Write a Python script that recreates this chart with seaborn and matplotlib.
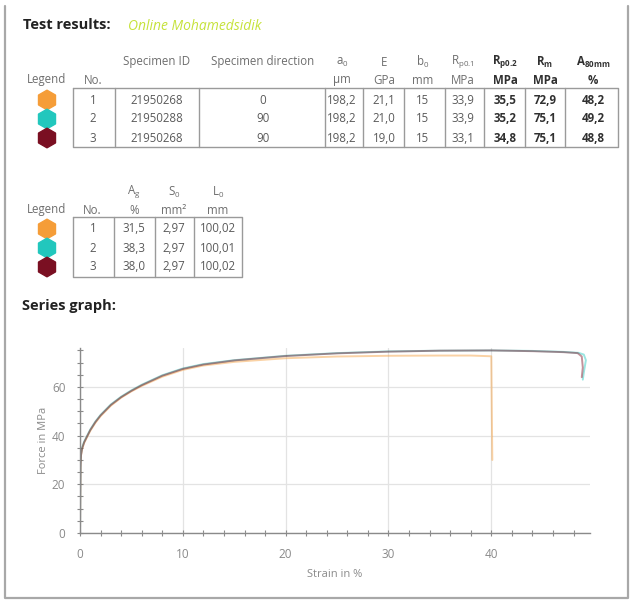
import pandas as pd
import seaborn as sns
import matplotlib.pyplot as plt
from matplotlib.ticker import MultipleLocator

# --- report tables
specimen_no = [1, 2, 3]
specimen_id = ["21950268", "21950288", "21950268"]
direction = ["0", "90", "90"]
a0 = ["198,2", "198,2", "198,2"]
e_mod = ["21,1", "21,0", "19,0"]
b0 = ["15", "15", "15"]
rp01 = ["33,9", "33,9", "33,1"]
rp02 = ["35,5", "35,2", "34,8"]
rm = ["72,9", "75,1", "75,1"]
a80 = ["48,2", "49,2", "48,8"]
ag = ["31,5", "38,3", "38,0"]
s0 = ["2,97", "2,97", "2,97"]
l0 = ["100,02", "100,01", "100,02"]
colors = ["#f59d38", "#22c7bd", "#7a0f22"]

# --- stress/strain curves
strain_1 = [0, 0.02, 0.05, 0.1, 0.2, 0.4, 0.7, 1, 1.5, 2, 3, 4, 5, 6, 8, 10, 12, 15, 20, 25, 30, 35, 38, 40.0, 40.05, 40.1]
stress_1 = [0, 15, 28, 32, 34.5, 37, 39.5, 42, 45.3, 48, 52.3, 55.6, 58.2, 60.4, 64.2, 67, 68.8, 70.3, 71.8, 72.5, 72.8, 72.9, 72.9, 72.6, 50, 30]
strain_2 = [0, 0.02, 0.05, 0.1, 0.2, 0.4, 0.7, 1, 1.5, 2, 3, 4, 5, 6, 8, 10, 12, 15, 20, 25, 30, 35, 40, 44, 47, 48.5, 49.0, 49.2, 49.0, 48.9]
stress_2 = [0, 15, 28, 32.5, 35, 37.5, 40, 42.5, 45.8, 48.5, 52.8, 56, 58.6, 60.9, 64.8, 67.6, 69.4, 71, 72.8, 73.9, 74.6, 74.9, 75.0, 74.8, 74.4, 74.0, 73.3, 71, 66, 63]
strain_3 = [0, 0.02, 0.05, 0.1, 0.2, 0.4, 0.7, 1, 1.5, 2, 3, 4, 5, 6, 8, 10, 12, 15, 20, 25, 30, 35, 40, 44, 47, 48.4, 48.8, 48.9, 48.8]
stress_3 = [0, 15, 27, 32, 34.6, 37.2, 39.8, 42.3, 45.6, 48.3, 52.6, 55.8, 58.4, 60.7, 64.6, 67.4, 69.2, 70.9, 72.7, 73.8, 74.5, 74.9, 75.0, 74.7, 74.3, 73.9, 72.5, 68, 64]

curves = pd.concat([
    pd.DataFrame({"strain": strain_1, "stress": stress_1, "No.": 1}),
    pd.DataFrame({"strain": strain_2, "stress": stress_2, "No.": 2}),
    pd.DataFrame({"strain": strain_3, "stress": stress_3, "No.": 3}),
], ignore_index=True)

sns.set_theme(style="ticks")
plt.rcParams['font.family'] = ['Open Sans', 'DejaVu Sans']
plt.rcParams['mathtext.fontset'] = 'custom'
plt.rcParams['mathtext.rm'] = 'Open Sans'
plt.rcParams['mathtext.bf'] = 'Open Sans:bold'
plt.rcParams['mathtext.it'] = 'Open Sans:italic'

W, H = 632, 603
fig = plt.figure(figsize=(W / 100, H / 100), dpi=100)
fig.patch.set_facecolor("white")

# page overlay in pixel coordinates (y down)
page = fig.add_axes([0, 0, 1, 1], zorder=0)
page.set_xlim(0, W)
page.set_ylim(H, 0)
page.axis("off")

line_c = "#9a9a9a"
head_c = "#6e6e6e"
val_c = "#5a5a5a"
bold_c = "#303030"

# outer frame
page.plot([5, 5, 628, 628], [6, 598, 598, 6], color="#a8a8a8", lw=1.6)

page.text(23, 25, "Test results:", fontsize=10.5, fontweight="bold", color="#222", va="center")
page.text(128, 27, "Online Mohamedsidik", fontsize=10, style="italic", color="#c6e23a", va="center")


def box(x0, x1, y0, y1, seps):
    page.plot([x0, x1, x1, x0, x0], [y0, y0, y1, y1, y0], color=line_c, lw=1)
    for s in seps:
        page.plot([s, s], [y0, y1], color=line_c, lw=1)


# --- table 1
fs = 8.3
box(73, 618, 88, 147, [115, 199, 325, 363, 404, 445, 484, 525, 565])
row_y = [100, 119, 138]
page.text(47, 80, "Legend", fontsize=fs, color=head_c, ha="center", va="center")
page.text(93, 80, "No.", fontsize=fs, color=head_c, ha="center", va="center")
page.text(157, 62, "Specimen ID", fontsize=fs, color=head_c, ha="center", va="center")
page.text(263, 62, "Specimen direction", fontsize=fs, color=head_c, ha="center", va="center")
heads = [(342, r"$\mathrm{a_0}$", "µm", False), (384, "E", "GPa", False), (423, r"$\mathrm{b_0}$", "mm", False),
         (463, r"$\mathrm{R_{p0.1}}$", "MPa", False), (505, r"$\mathbf{R_{p0.2}}$", "MPa", True),
         (545, r"$\mathbf{R_m}$", "MPa", True), (593, r"$\mathbf{A_{80mm}}$", "%", True)]
for x, top, unit, bold in heads:
    page.text(x, 62, top, fontsize=fs, color=bold_c if bold else head_c, ha="center", va="center")
    page.text(x, 80, unit, fontsize=fs, color=bold_c if bold else head_c, ha="center", va="center",
              fontweight="bold" if bold else "normal")
page.scatter([47] * 3, row_y, marker="h", s=200, c=colors, zorder=3)
cols1 = [(93, specimen_no, False), (157, specimen_id, False), (263, direction, False), (342, a0, False),
         (384, e_mod, False), (423, b0, False), (463, rp01, False), (505, rp02, True), (545, rm, True),
         (593, a80, True)]
for x, vals, bold in cols1:
    for y, v in zip(row_y, vals):
        page.text(x, y, str(v), fontsize=fs, ha="center", va="center",
                  color=bold_c if bold else val_c, fontweight="bold" if bold else "normal")

# --- table 2
box(73, 242, 217, 277, [114, 155, 194])
row_y2 = [229, 248, 267]
page.text(47, 210, "Legend", fontsize=fs, color=head_c, ha="center", va="center")
page.text(92, 210, "No.", fontsize=fs, color=head_c, ha="center", va="center")
for x, top, unit in [(134, r"$\mathrm{A_g}$", "%"), (174, r"$\mathrm{S_0}$", "mm²"), (218, r"$\mathrm{L_0}$", "mm")]:
    page.text(x, 192, top, fontsize=fs, color=head_c, ha="center", va="center")
    page.text(x, 210, unit, fontsize=fs, color=head_c, ha="center", va="center")
page.scatter([47] * 3, row_y2, marker="h", s=200, c=colors, zorder=3)
for x, vals in [(93, specimen_no), (134, ag), (174, s0), (218, l0)]:
    for y, v in zip(row_y2, vals):
        page.text(x, y, str(v), fontsize=fs, ha="center", va="center", color=val_c)

page.text(22, 306, "Series graph:", fontsize=10.5, fontweight="bold", color="#222", va="center")

# --- series graph
ax = fig.add_axes([80 / W, 70 / H, 510 / W, 185 / H], zorder=1)
ax.patch.set_alpha(0)
sns.lineplot(data=curves, x="strain", y="stress", hue="No.", palette=colors, sort=False,
             estimator=None, legend=False, lw=1.4, alpha=0.45, ax=ax)
ax.set_xlim(0, 49.6)
ax.set_ylim(0, 76)
ax.set_xticks([0, 10, 20, 30, 40])
ax.set_yticks([0, 20, 40, 60])
ax.xaxis.set_minor_locator(MultipleLocator(2))
ax.yaxis.set_minor_locator(MultipleLocator(5))
ax.grid(True, which="major", color="#e3e3e3", lw=0.9)
ax.tick_params(which="both", direction="inout", length=5, width=0.8, color="#8a8a8a",
               labelsize=8.5, labelcolor="#8a8a8a", pad=8)
for side in ["top", "right"]:
    ax.spines[side].set_visible(False)
for side in ["left", "bottom"]:
    ax.spines[side].set_color("#8a8a8a")
    ax.spines[side].set_linewidth(1)
ax.set_xlabel("Strain in %", fontsize=8, color="#8a8a8a", labelpad=6)
ax.set_ylabel("Force in MPa", fontsize=8, color="#8a8a8a", labelpad=2)

fig.savefig("out.png", dpi=100)
